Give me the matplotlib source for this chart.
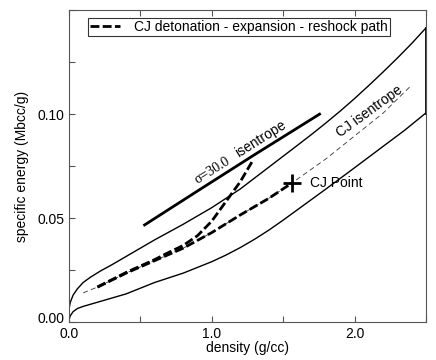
import numpy as np
import matplotlib
matplotlib.use("Agg")
from matplotlib import pyplot as plt
from matplotlib import transforms
from matplotlib.ticker import MultipleLocator, FixedLocator

plt.rcParams['font.family'] = ['Liberation Sans', 'DejaVu Sans']
plt.rcParams['font.size'] = 10

# bounding curves of the region (density g/cc, energy Mbcc/g)
upper_rho = [0.0, 0.01, 0.03, 0.06, 0.1, 0.15, 0.22, 0.3, 0.45, 0.6, 0.8, 1.0, 1.2, 1.4, 1.6,
             1.7, 1.8, 1.9, 2.0, 2.1, 2.2, 2.3, 2.4, 2.5]
upper_e = [0.006, 0.0095, 0.013, 0.016, 0.019, 0.0215, 0.0245, 0.0275, 0.0335, 0.0395, 0.047, 0.055,
           0.064, 0.0745, 0.085, 0.0903, 0.0958, 0.1015, 0.1075, 0.1138, 0.1203, 0.127, 0.134, 0.1415]
lower_rho = [0.0, 0.01, 0.03, 0.06, 0.1, 0.2, 0.4, 0.6, 0.8, 1.0, 1.1, 1.2, 1.3, 1.4, 1.5, 1.6,
             1.8, 2.0, 2.2, 2.35, 2.5]
lower_e = [0.001, 0.003, 0.005, 0.0065, 0.0075, 0.0095, 0.0135, 0.019, 0.0235, 0.029, 0.0322,
           0.0358, 0.0398, 0.0442, 0.049, 0.054, 0.064, 0.0742, 0.0845, 0.0922, 0.1006]

# sigma = 30 isentrope
sig_rho = [0.53, 0.9, 1.3, 1.755]
sig_e = [0.0467, 0.063, 0.0805, 0.100]

# CJ isentrope
cj_rho = [0.1, 0.2, 0.4, 0.6, 0.8, 1.0, 1.2, 1.4, 1.56, 1.8, 2.0, 2.2, 2.385]
cj_e = [0.014, 0.0168, 0.0235, 0.0295, 0.0355, 0.043, 0.0515, 0.0595, 0.0668, 0.0785, 0.0895, 0.1005, 0.113]

cj_point = (1.56, 0.0668)

# reshock branch from expanded state up to sigma=30 isentrope
re_rho = [0.2, 0.4, 0.6, 0.7, 0.8, 0.9, 1.0, 1.1, 1.2, 1.29]
re_e = [0.0168, 0.0238, 0.0300, 0.0335, 0.0368, 0.0415, 0.0485, 0.058, 0.0675, 0.078]

fig = plt.figure(figsize=(4.36, 3.6), dpi=100)
ax = fig.add_axes([0.158, 0.1056, 0.819, 0.866])

ax.plot(upper_rho, upper_e, color='black', lw=1.0)
ax.plot(lower_rho, lower_e, color='black', lw=1.0)
ax.plot([upper_rho[-1], lower_rho[-1]], [upper_e[-1], lower_e[-1]], color='black', lw=2.0)

ax.plot(sig_rho, sig_e, color='black', lw=2.0)
ax.plot(cj_rho, cj_e, color='#333333', lw=0.6, dashes=(6, 4))

# expansion along CJ isentrope from the CJ point
exp_rho = [r for r in cj_rho if 0.2 <= r <= cj_point[0]]
exp_e = [e for r, e in zip(cj_rho, cj_e) if 0.2 <= r <= cj_point[0]]
ax.plot(exp_rho, exp_e, color='black', lw=2.0, dashes=(3.2, 1.2),
        label='CJ detonation - expansion - reshock path')
ax.plot(re_rho, re_e, color='black', lw=2.0, dashes=(3.2, 1.2))

ax.plot([cj_point[0]], [cj_point[1]], marker='+', color='black', ms=13, mew=2)
ax.text(1.685, 0.0669, 'CJ Point', ha='left', va='center', fontsize=10)

ax.text(0.90, 0.0664, 'σ=30.0', family=['Liberation Serif', 'DejaVu Serif'],
        rotation=32, rotation_mode='anchor', ha='left', va='baseline', fontsize=10)
ax.text(1.19, 0.0792, 'isentrope', rotation=32, rotation_mode='anchor',
        ha='left', va='baseline', fontsize=10)
ax.text(1.90, 0.0885, 'CJ isentrope', rotation=36, rotation_mode='anchor',
        ha='left', va='baseline', fontsize=10)

ax.set_xlim(0, 2.5)
ax.set_ylim(0, 0.15)
ax.xaxis.set_major_locator(FixedLocator([0.0, 1.0, 2.0]))
ax.xaxis.set_minor_locator(MultipleLocator(0.5))
ax.set_xticklabels(['0.0', '1.0', '2.0'])
ax.yaxis.set_major_locator(FixedLocator([0.0, 0.05, 0.10]))
ax.yaxis.set_minor_locator(MultipleLocator(0.025))
ax.set_yticklabels(['0.00', '0.05', '0.10'])
ax.tick_params(which='both', direction='in', top=True, right=False,
               length=4, width=0.8, color='#555555', labelsize=10)
ax.tick_params(axis='x', pad=3.5)
ax.tick_params(axis='y', pad=3)
for s in ax.spines.values():
    s.set_color('#555555')
    s.set_linewidth(0.8)

# nudge the 0.00 label up so it clears the 0.0 label below it
lab0 = ax.get_yticklabels()[0]
lab0.set_transform(lab0.get_transform() + transforms.ScaledTranslation(0, 3 / 72, fig.dpi_scale_trans))

ax.set_xlabel('density (g/cc)', fontsize=10, labelpad=0)
ax.set_ylabel('specific energy (Mbcc/g)', fontsize=10, labelpad=6)

leg = ax.legend(loc='upper left', bbox_to_anchor=(0.053, 0.975), fancybox=False,
                frameon=True, edgecolor='black', handlelength=2.2, borderpad=0.15,
                handletextpad=1.0, borderaxespad=0, fontsize=10)
leg.get_frame().set_linewidth(0.8)

fig.savefig('out.png', dpi=100)
